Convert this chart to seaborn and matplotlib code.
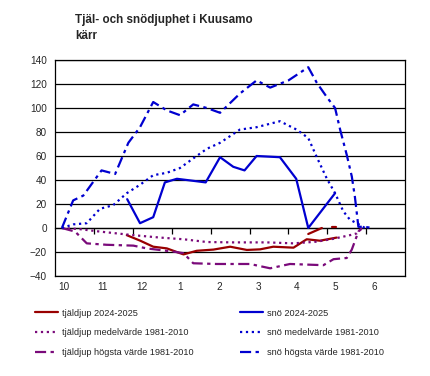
import matplotlib
matplotlib.use('Agg')
import matplotlib.pyplot as plt
import numpy as np
import seaborn as sns
import pandas as pd

sns.set_style('white')
plt.rcParams['font.family'] = ['Liberation Sans', 'DejaVu Sans']

manader = ['10', '11', '12', '1', '2', '3', '4', '5', '6']

# x = months since 1 Oct
sno_hog_x = [0.17, 0.46, 0.72, 1.19, 1.54, 1.71, 1.88, 2.18, 2.52, 2.87, 3.21, 3.55, 3.90, 4.24,
             4.75, 5.18, 5.53, 6.00, 6.51, 6.73, 6.99, 7.20, 7.33, 7.50, 7.63, 7.71, 7.80, 7.93, 8.19]
sno_hog_y = [0, 23, 27, 48, 45, 58, 71, 84, 105, 98, 94, 103, 100, 96,
             112, 123, 117, 123, 134, 121, 109, 100, 82, 61, 43, 26, 1, 1, 0]

sno_med_x = [0.17, 0.46, 0.81, 1.15, 1.49, 1.84, 2.18, 2.52, 2.87, 3.21, 3.55, 3.90, 4.24,
             4.75, 5.18, 5.78, 6.21, 6.51, 6.73, 6.99, 7.20, 7.41, 7.58, 7.84, 7.97]
sno_med_y = [0, 3, 4, 16, 19, 29, 36, 44, 46, 50, 58, 66, 71,
             82, 84, 89, 82, 75, 59, 41, 29, 14, 7, 2.5, 0]

sno_x = [1.85, 2.18, 2.52, 2.82, 3.13, 3.38, 3.87, 4.24, 4.58, 4.87, 5.18, 5.78, 6.20, 6.51, 7.20]
sno_y = [24, 4, 9, 38, 41, 40, 38, 59, 51, 48, 60, 59, 41, 0, 29]

tjale_x = [1.84, 2.18, 2.52, 2.87, 3.21, 3.30, 3.64, 4.07, 4.50, 4.93, 5.27, 5.61, 6.13, 6.47, 6.81, 7.24]
tjale_y = [-6, -10.5, -15.6, -17, -21, -22, -19, -18, -15.6, -18.3, -17.8, -15.6, -16.4, -9.4, -10.6, -8]

# thawing from the surface (no legend entry)
tina_x = [6.51, 6.86]
tina_y = [-5, 0]
tina2_x = [7.13, 7.22]
tina2_y = [0.5, 0.5]

tjale_med_x = [0.17, 0.64, 1.15, 2.01, 2.70, 3.30, 3.90, 4.58, 5.44, 6.13, 6.73, 7.16, 7.58, 7.76, 7.84, 7.92]
tjale_med_y = [0, -1, -3, -6, -8, -9.4, -11.7, -12, -12, -12.8, -11.4, -9, -6, -4.5, -1.7, 0]

tjale_hog_x = [0.17, 0.51, 0.81, 1.32, 2.01, 2.35, 3.04, 3.30, 3.55, 4.15, 5.01, 5.53, 6.04,
               6.90, 7.16, 7.50, 7.63, 7.71, 7.80, 7.89]
tjale_hog_y = [0, -3, -12.8, -14, -14.7, -17, -19.7, -21, -29.4, -30, -30, -33.6, -30,
               -31, -26, -25, -18, -11, -3, 0]

rod = '#990000'
bla = '#0000D0'
lila = '#7A0A7A'
dashdot = (0, (5, 2, 1.5, 2))

fig = plt.figure(figsize=(4.3, 3.76), dpi=100)
ax = fig.add_axes([0.1286, 0.266, 0.8133, 0.5744])

lw = 1.6
series = [
    (tjale_x, tjale_y, rod, '-', 'tjäldjup 2024-2025'),
    (tjale_med_x, tjale_med_y, lila, ':', 'tjäldjup medelvärde 1981-2010'),
    (tjale_hog_x, tjale_hog_y, lila, dashdot, 'tjäldjup högsta värde 1981-2010'),
    (sno_x, sno_y, bla, '-', 'snö 2024-2025'),
    (sno_med_x, sno_med_y, bla, ':', 'snö medelvärde 1981-2010'),
    (sno_hog_x, sno_hog_y, bla, dashdot, 'snö högsta värde 1981-2010'),
]
for xs, ys, c, ls, lab in series:
    sns.lineplot(x=xs, y=ys, ax=ax, color=c, linestyle=ls, linewidth=lw,
                 estimator=None, sort=False, label=lab, legend=False)
sns.lineplot(x=tina_x, y=tina_y, ax=ax, color=rod, linewidth=lw, estimator=None, sort=False, legend=False)
sns.lineplot(x=tina2_x, y=tina2_y, ax=ax, color=rod, linewidth=lw, estimator=None, sort=False, legend=False)

ax.set_xlim(0, 9)
ax.set_ylim(-40, 140)
ax.set_yticks(np.arange(-40, 141, 20))
ax.yaxis.grid(True, color='black', linewidth=0.9)
ax.set_axisbelow(True)
ax.tick_params(axis='y', labelsize=7.2, length=4, width=0.9, direction='out', pad=2, color='black')
ax.set_xticks(np.arange(9) + 0.22, manader)
ax.tick_params(axis='x', labelsize=7.2, length=0, pad=4)
for s in ax.spines.values():
    s.set_color('black')
    s.set_linewidth(0.9)
ax.set_xlabel('')
ax.set_ylabel('')

# category axis crosses at 0
sec = ax.secondary_xaxis(40 / 180)
sec.set_xticks(np.arange(1, 9))
sec.set_xticklabels([])
sec.tick_params(direction='out', length=4, width=0.9, color='black')
sec.spines['bottom'].set_linewidth(0.9)

fig.text(0.174, 0.963, 'Tjäl- och snödjuphet i Kuusamo\nkärr', fontsize=8.4,
         fontweight='bold', va='top', ha='left', linespacing=1.4)

h, l = ax.get_legend_handles_labels()
for i, x0 in [(0, 0.0814), (3, 0.558)]:
    fig.legend(h[i:i + 3], l[i:i + 3], loc='upper left', bbox_to_anchor=(x0, 0.179),
               frameon=False, fontsize=6.6, handlelength=2.5, handletextpad=0.45,
               labelspacing=1.17, borderpad=0, borderaxespad=0)

fig.savefig('out.png', dpi=100)
